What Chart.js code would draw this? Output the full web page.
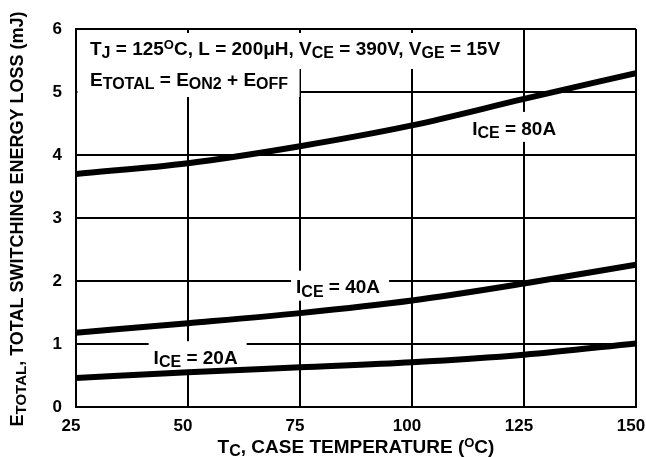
<!DOCTYPE html>
<html>
<head>
<meta charset="utf-8">
<script src="https://cdn.jsdelivr.net/npm/chart.js@4/dist/chart.umd.min.js"></script>
<style>
  html, body { margin: 0; padding: 0; background: #fff; }
  #wrap { width: 646px; height: 457px; }
</style>
</head>
<body>
<div id="wrap"><canvas id="lossChart" width="646" height="457"></canvas></div>
<script>
// --- chart data ---
const caseTemps = [25, 50, 75, 100, 125, 150];          // T_C (°C)
const loss80A = [3.70, 3.87, 4.14, 4.47, 4.89, 5.30];   // E_TOTAL (mJ), I_CE = 80A
const loss40A = [1.18, 1.33, 1.49, 1.69, 1.96, 2.26];   // I_CE = 40A
const loss20A = [0.46, 0.55, 0.63, 0.71, 0.83, 1.01];   // I_CE = 20A
const xTicks = [25, 50, 75, 100, 125, 150];
const yTicks = [0, 1, 2, 3, 4, 5, 6];

const FONT = '"Liberation Sans", Arial, Helvetica, sans-serif';
const TXT = 19;

// rich text pieces: {t: text, s: 'sub' | 'sup' | undefined}
function partSize(p, size) {
    if (p.s === 'sub') return Math.round(size * 0.85);
    if (p.s === 'sup') return Math.round(size * 0.7);
    return size;
}

function richWidth(ctx, parts, size) {
    let w = 0;
    parts.forEach(p => {
        ctx.font = `bold ${partSize(p, size)}px ${FONT}`;
        w += ctx.measureText(p.t).width;
    });
    return w;
}

// y is the vertical centre of the capitals of the main text
function drawRich(ctx, parts, x, y, size, align) {
    const w = richWidth(ctx, parts, size);
    let cx = align === 'center' ? x - w / 2 : x;
    const base = y + size * 0.716 / 2;
    ctx.textBaseline = 'alphabetic';
    ctx.textAlign = 'left';
    ctx.fillStyle = '#000';
    parts.forEach(p => {
        ctx.font = `bold ${partSize(p, size)}px ${FONT}`;
        let dy = 0;
        if (p.s === 'sub') dy = size * 0.16;
        if (p.s === 'sup') dy = -size * 0.32;
        ctx.fillText(p.t, cx, base + dy);
        cx += ctx.measureText(p.t).width;
    });
    return w;
}

// labels inside the plot, anchored in data units
const curveLabels = [
    { x: 122.8, y: 4.43, parts: [{t: 'I'}, {t: 'CE', s: 'sub'}, {t: ' = 80A'}] },
    { x: 83.5, y: 1.91, parts: [{t: 'I'}, {t: 'CE', s: 'sub'}, {t: ' = 40A'}] },
    { x: 51.7, y: 0.79, parts: [{t: 'I'}, {t: 'CE', s: 'sub'}, {t: ' = 20A'}] }
];
const conditionLines = [
    { y: 5.70, parts: [{t: 'T'}, {t: 'J', s: 'sub'}, {t: ' = 125'}, {t: 'O', s: 'sup'}, {t: 'C, L = 200\u03bcH, V'},
        {t: 'CE', s: 'sub'}, {t: ' = 390V, V'}, {t: 'GE', s: 'sub'}, {t: ' = 15V'}] },
    { y: 5.20, parts: [{t: 'E'}, {t: 'TOTAL', s: 'sub'}, {t: ' = E'}, {t: 'ON2', s: 'sub'}, {t: ' + E'}, {t: 'OFF', s: 'sub'}] }
];

// white boxes go under the curves but over the grid
const labelPlugin = {
    id: 'labelPlugin',
    beforeDatasetsDraw(chart) {
        const ctx = chart.ctx;
        const xs = chart.scales.x, ys = chart.scales.y;
        const area = chart.chartArea;
        ctx.save();
        // condition text block, top left
        const w1 = richWidth(ctx, conditionLines[0].parts, TXT);
        const w2 = richWidth(ctx, conditionLines[1].parts, TXT);
        ctx.fillStyle = '#fff';
        ctx.fillRect(area.left + 1.5, area.top + 4, w1 + 22, 36);
        ctx.fillRect(area.left + 1.5, area.top + 38, w2 + 24, 30);
        curveLabels.forEach(l => {
            const w = richWidth(ctx, l.parts, TXT);
            const px = xs.getPixelForValue(l.x), py = ys.getPixelForValue(l.y);
            ctx.fillRect(px - w / 2 - 5, py - 16, w + 14, 30);
        });
        ctx.restore();
    },
    afterDatasetsDraw(chart) {
        const ctx = chart.ctx;
        const xs = chart.scales.x, ys = chart.scales.y;
        const area = chart.chartArea;
        ctx.save();
        conditionLines.forEach(l => {
            drawRich(ctx, l.parts, area.left + 14, ys.getPixelForValue(l.y), TXT, 'left');
        });
        curveLabels.forEach(l => {
            drawRich(ctx, l.parts, xs.getPixelForValue(l.x), ys.getPixelForValue(l.y), TXT, 'center');
        });
        // axis titles
        drawRich(ctx, [{t: 'T'}, {t: 'C', s: 'sub'}, {t: ', CASE TEMPERATURE ('}, {t: 'O', s: 'sup'}, {t: 'C)'}],
            356, 446, TXT, 'center');
        ctx.translate(17, 219);
        ctx.rotate(-Math.PI / 2);
        drawRich(ctx, [{t: 'E'}, {t: 'TOTAL', s: 'sub'}, {t: ', TOTAL SWITCHING ENERGY LOSS (mJ)'}], 0, 0, 18, 'center');
        ctx.restore();
    }
};

function toPoints(values) {
    return caseTemps.map((t, i) => ({ x: t, y: values[i] }));
}

const curveStyle = {
    borderColor: '#000',
    borderWidth: 6,
    pointRadius: 0,
    fill: false,
    cubicInterpolationMode: 'monotone',
    borderCapStyle: 'butt'
};

new Chart(document.getElementById('lossChart'), {
    type: 'line',
    data: {
        datasets: [
            { label: 'ICE = 80A', data: toPoints(loss80A), ...curveStyle },
            { label: 'ICE = 40A', data: toPoints(loss40A), ...curveStyle },
            { label: 'ICE = 20A', data: toPoints(loss20A), ...curveStyle }
        ]
    },
    options: {
        responsive: false,
        animation: false,
        devicePixelRatio: 1,
        layout: { autoPadding: false, padding: { top: 29, right: 10, left: 0, bottom: 0 } },
        plugins: { legend: { display: false }, tooltip: { enabled: false } },
        scales: {
            x: {
                type: 'linear',
                min: 25, max: 150,
                afterBuildTicks: axis => { axis.ticks = xTicks.map(v => ({ value: v })); },
                afterFit: axis => { axis.height = 50; axis.paddingLeft = 0; axis.paddingRight = 0; },
                grid: { color: '#000', lineWidth: 2, drawTicks: false },
                border: { color: '#000', width: 2 },
                ticks: { color: '#000', padding: 9, labelOffset: -5, font: { family: FONT, size: 17, weight: 'bold' } }
            },
            y: {
                min: 0, max: 6,
                afterBuildTicks: axis => { axis.ticks = yTicks.map(v => ({ value: v })); },
                afterFit: axis => { axis.width = 76; axis.paddingTop = 0; axis.paddingBottom = 0; },
                grid: { color: '#000', lineWidth: 2, drawTicks: false },
                border: { color: '#000', width: 2 },
                ticks: { color: '#000', padding: 14, font: { family: FONT, size: 17, weight: 'bold' } }
            }
        }
    },
    plugins: [labelPlugin]
});
</script>
</body>
</html>
